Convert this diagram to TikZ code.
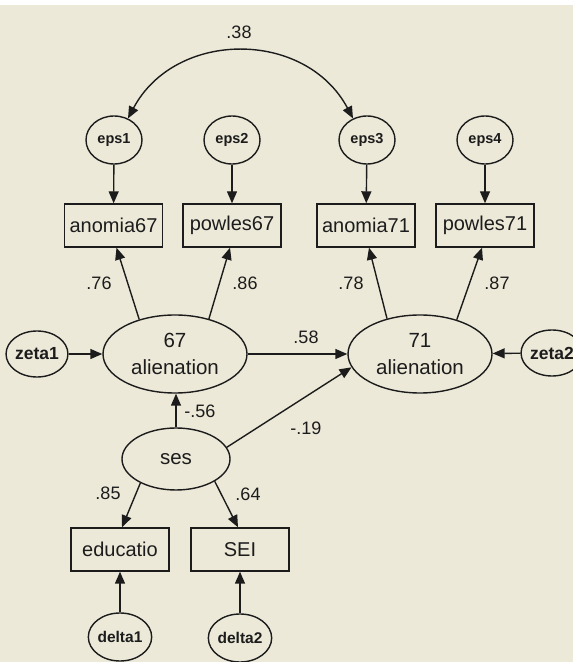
\documentclass[tikz,border=0pt]{standalone}
\usepackage{fontspec}
\setmainfont{Liberation Sans}
\usetikzlibrary{arrows.meta,shapes.geometric}
\definecolor{bg}{RGB}{236,233,216}
\definecolor{ink}{RGB}{28,28,28}
\begin{document}
\begin{tikzpicture}[x=1pt,y=1pt,
  >={Triangle[length=12pt,width=10pt]},
  lat/.style={ellipse,draw=ink,line width=1.4pt,minimum width=144pt,minimum height=78pt,inner sep=0pt,align=center,font=\fontsize{20.5}{27}\selectfont,text=ink},
  err/.style={ellipse,draw=ink,line width=1.4pt,minimum width=56pt,minimum height=48pt,inner sep=0pt,font=\bfseries\fontsize{14.5}{18}\selectfont,text=ink},
  obs/.style={rectangle,draw=ink,line width=1.4pt,minimum width=98pt,minimum height=43pt,inner sep=0pt,font=\fontsize{20}{24}\selectfont,text=ink},
  coef/.style={inner sep=0pt,font=\fontsize{18}{20}\selectfont,text=ink},
  conn/.style={draw=ink,line width=1.4pt,->},
  biconn/.style={draw=ink,line width=1.4pt,<->}
]
\useasboundingbox (0,0) rectangle (573,662);
\clip (0,0) rectangle (573,662);
\fill[bg] (0,0) rectangle (573,662);
\fill[white] (0,657) rectangle (573,662);

% error terms of indicators
\node[err] (eps1) at (114,522) {eps1};
\node[err] (eps2) at (232,522) {eps2};
\node[err] (eps3) at (367,522) {eps3};
\node[err] (eps4) at (485,522) {eps4};

% indicators
\node[obs] (anomia67) at (113.5,436.5) {anomia67};
\node[obs] (powles67) at (232,436.5) {powles67};
\node[obs] (anomia71) at (366,436.5) {anomia71};
\node[obs] (powles71) at (485,436.5) {powles71};

% latent variables
\node[lat] (al67) at (175,308) {67\\alienation};
\node[lat] (al71) at (420,308) {71\\alienation};
\node[err,minimum width=55pt,minimum height=46pt,font=\bfseries\fontsize{17.5}{18}\selectfont] (zeta1) at (37,308) {zeta1};
\node[err,minimum width=55pt,minimum height=46pt,font=\bfseries\fontsize{17.5}{18}\selectfont] (zeta2) at (552,309) {zeta2};
\node[lat,minimum width=108pt,minimum height=62pt] (ses) at (176,203) {ses};

% ses indicators
\node[obs] (educatio) at (120,112.5) {educatio};
\node[obs] (SEI) at (240,112.5) {SEI};
\node[err,font=\bfseries\fontsize{15.5}{18}\selectfont] (delta1) at (120,25) {delta1};
\node[err,font=\bfseries\fontsize{15.5}{18}\selectfont] (delta2) at (240,24) {delta2};

% connectors
\draw[biconn] (eps1.57) to[out=62,in=118,looseness=1.15] (eps3.123);
\draw[conn] (eps1) -- (anomia67);
\draw[conn] (eps2) -- (powles67);
\draw[conn] (eps3) -- (anomia71);
\draw[conn] (eps4) -- (powles71);

\draw[conn] (al67.136) -- ([xshift=3pt]anomia67.south);
\draw[conn] (al67.46) -- ([xshift=-2pt]powles67.south);
\draw[conn] (al71.133) -- ([xshift=3pt]anomia71.south);
\draw[conn] (al71.43) -- ([xshift=-3pt]powles71.south);

\draw[conn] (zeta1) -- (al67);
\draw[conn] (al67) -- (al71);
\draw[conn] (zeta2) -- (al71);
\draw[conn] (ses.north) -- (ses.north |- al67.south);
\draw[conn] (ses.13) -- (al71.191);

\draw[conn] (ses.214) -- ([xshift=2pt]educatio.north);
\draw[conn] (ses.330) -- ([xshift=-2pt]SEI.north);
\draw[conn] (delta1) -- (educatio);
\draw[conn] (delta2) -- (SEI);

% coefficients
\node[coef] (c38) at (239,630) {.38};
\node[coef] (c76) at (99,379) {.76};
\node[coef] (c86) at (245,379) {.86};
\node[coef] (c78) at (351,379) {.78};
\node[coef] (c87) at (497,379) {.87};
\node[coef] (c58) at (306,325) {.58};
\node[coef] (c56) at (200,251) {-.56};
\node[coef] (c19) at (306,234) {-.19};
\node[coef] (c85) at (108,169) {.85};
\node[coef] (c64) at (248,168) {.64};
\end{tikzpicture}
\end{document}
